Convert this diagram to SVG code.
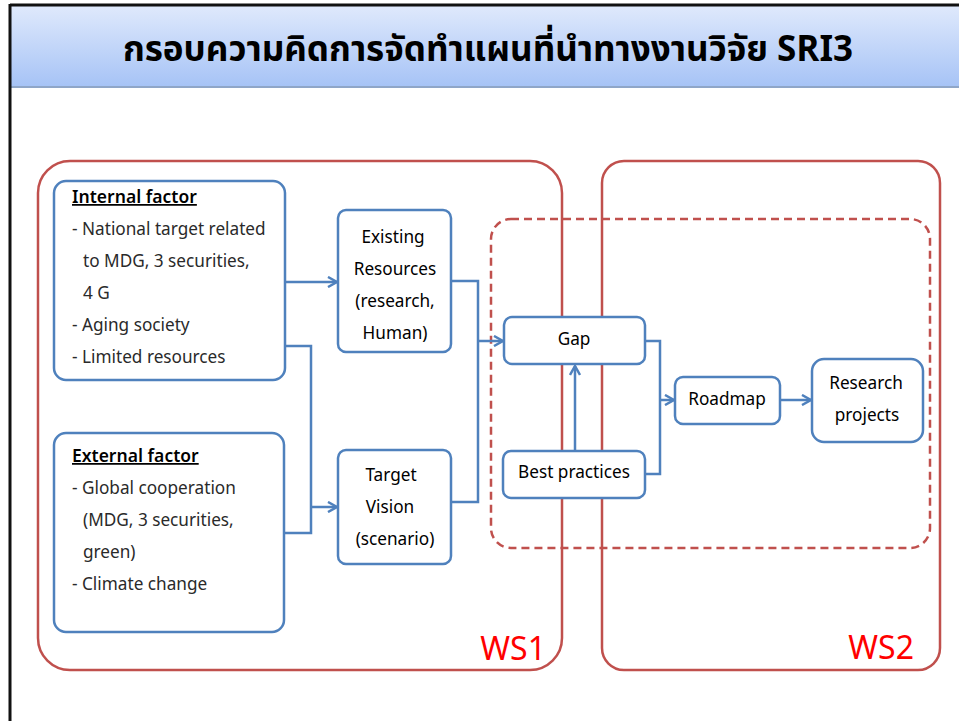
<svg xmlns="http://www.w3.org/2000/svg" width="959" height="721" viewBox="0 0 959 721">
<defs>
<linearGradient id="hdr" x1="0" y1="0" x2="0" y2="1">
<stop offset="0" stop-color="#dfe9fc"/>
<stop offset="1" stop-color="#a6c3f6"/>
</linearGradient>
<marker id="arr" markerWidth="12" markerHeight="12" refX="10" refY="6" orient="auto" markerUnits="userSpaceOnUse">
<path d="M1,1 L10,6 L1,11" fill="none" stroke="#4f81bd" stroke-width="2.5"/>
</marker>
<style>
.ws{fill:none;stroke:#c0504d;stroke-width:2.5}
.dash{fill:none;stroke:#c0504d;stroke-width:2.5;stroke-dasharray:8 5}
.box{fill:#fff;stroke:#4f81bd;stroke-width:2.5}
.c{fill:none;stroke:#4f81bd;stroke-width:2.5}
.t{font-family:"Noto Sans Thai","Noto Sans","DejaVu Sans",sans-serif;font-size:17.2px;fill:#2a2a2a}
.h{font-weight:600;font-size:17.5px;text-decoration:underline;fill:#000}
.m{text-anchor:middle;fill:#000}
.ws-l{font-family:"Noto Sans","Liberation Sans",sans-serif;font-size:32px;fill:#ff0000;text-anchor:end}
</style>
</defs>
<rect x="0" y="0" width="959" height="721" fill="#fff"/>
<rect x="11" y="6" width="948" height="81" fill="url(#hdr)"/>
<line x1="11" y1="87" x2="959" y2="87" stroke="#8fa6c8" stroke-width="2"/>
<line x1="10" y1="5" x2="959" y2="5" stroke="#111" stroke-width="3"/>
<line x1="10" y1="4" x2="10" y2="721" stroke="#111" stroke-width="3"/>
<text x="488" y="61" text-anchor="middle" font-family="'Noto Sans Thai','Noto Sans','DejaVu Sans',sans-serif" font-size="35" font-weight="bold" fill="#000">กรอบความคิดการจัดทำแผนที่นำทางงานวิจัย SRI3</text>

<g id="ws1"><rect class="ws" x="38" y="161" width="524" height="509" rx="32"/><text class="ws-l" x="546" y="660">WS1</text></g>
<g id="ws2"><rect class="ws" x="602" y="161" width="338" height="509" rx="22"/><text class="ws-l" x="914" y="659">WS2</text></g>
<g id="scope"><rect class="dash" x="491" y="219" width="439" height="329" rx="20"/></g>

<g id="connectors">
<line class="c" x1="285" y1="282" x2="337" y2="282" marker-end="url(#arr)"/>
<polyline class="c" points="285,346 311,346 311,533 284,533"/>
<line class="c" x1="311" y1="507" x2="337" y2="507" marker-end="url(#arr)"/>
<polyline class="c" points="451,281 478,281 478,502 451,502"/>
<line class="c" x1="478" y1="341" x2="503" y2="341" marker-end="url(#arr)"/>
<polyline class="c" points="645,341 660,341 660,474 645,474"/>
<line class="c" x1="660" y1="400" x2="674" y2="400" marker-end="url(#arr)"/>
<line class="c" x1="575" y1="451" x2="575" y2="366" marker-end="url(#arr)"/>
<line class="c" x1="780" y1="400" x2="811" y2="400" marker-end="url(#arr)"/>
</g>

<g id="internal">
<rect class="box" x="54" y="181" width="231" height="199" rx="12"/>
<text class="t h" x="72" y="203">Internal factor</text>
<text class="t" x="72" y="235">- National target related</text>
<text class="t" x="83" y="267">to MDG, 3 securities,</text>
<text class="t" x="83" y="299">4 G</text>
<text class="t" x="72" y="331">- Aging society</text>
<text class="t" x="72" y="363">- Limited resources</text>
</g>
<g id="external">
<rect class="box" x="54" y="433" width="230" height="199" rx="12"/>
<text class="t h" x="72" y="462">External factor</text>
<text class="t" x="72" y="494">- Global cooperation</text>
<text class="t" x="83" y="526">(MDG, 3 securities,</text>
<text class="t" x="83" y="558">green)</text>
<text class="t" x="72" y="590">- Climate change</text>
</g>
<g id="existing">
<rect class="box" x="338" y="210" width="113" height="142" rx="8"/>
<text class="t m" x="393" y="243">Existing</text>
<text class="t m" x="395" y="275">Resources</text>
<text class="t m" x="395" y="307">(research,</text>
<text class="t m" x="395" y="339">Human)</text>
</g>
<g id="target">
<rect class="box" x="338" y="450" width="113" height="114" rx="8"/>
<text class="t m" x="391" y="481">Target</text>
<text class="t m" x="390" y="513">Vision</text>
<text class="t m" x="395" y="545">(scenario)</text>
</g>
<g id="gap">
<rect class="box" x="504" y="317" width="141" height="47" rx="8"/>
<text class="t m" x="574" y="345">Gap</text>
</g>
<g id="best">
<rect class="box" x="503" y="451" width="142" height="47" rx="8"/>
<text class="t m" x="574" y="478">Best practices</text>
</g>
<g id="roadmap">
<rect class="box" x="675" y="377" width="105" height="47" rx="8"/>
<text class="t m" x="727" y="405">Roadmap</text>
</g>
<g id="research">
<rect class="box" x="812" y="359" width="111" height="83" rx="12"/>
<text class="t m" x="866" y="389">Research</text>
<text class="t m" x="867" y="421">projects</text>
</g>
</svg>
